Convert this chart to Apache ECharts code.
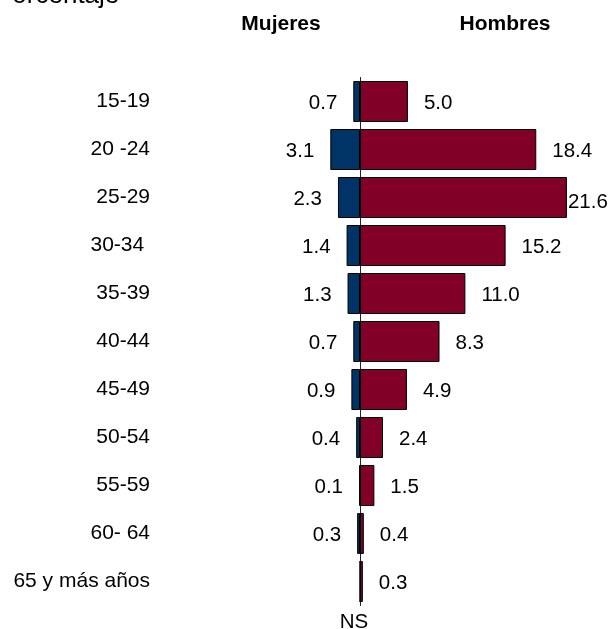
<!DOCTYPE html>
<html>
<head>
<meta charset="utf-8">
<script src="https://cdn.jsdelivr.net/npm/echarts@6/dist/echarts.min.js"></script>
<style>html,body{margin:0;padding:0;background:#fff}#c{width:612px;height:629px}</style>
</head>
<body>
<div id="c"></div>
<script>
// Data
var categories = ['15-19', '20 -24', '25-29', '30-34 ', '35-39', '40-44', '45-49', '50-54', '55-59', '60- 64', '65 y más años'];
var mujeres = [0.7, 3.1, 2.3, 1.4, 1.3, 0.7, 0.9, 0.4, 0.1, 0.3, 0]; // last = NS (no significativo)
var mujeresNS = [false, false, false, false, false, false, false, false, false, false, true];
var hombres = [5.0, 18.4, 21.6, 15.2, 11.0, 8.3, 4.9, 2.4, 1.5, 0.4, 0.3];
var titulo = 'Porcentaje';
var serieNombres = ['Mujeres', 'Hombres'];

var FONT = '"Liberation Sans", Arial, sans-serif';
var chart = echarts.init(document.getElementById('c'), null, {renderer: 'canvas'});

var mujeresData = mujeres.map(function (v, i) {
  var item = {value: -v};
  if (mujeresNS[i]) {
    item.label = {position: 'bottom', distance: 9, offset: [-6, 0], formatter: 'NS'};
  }
  return item;
});
var hombresData = hombres.map(function (v, i) {
  var item = {value: v};
  if (v === Math.max.apply(null, hombres)) {
    item.label = {distance: 1, offset: [0, 5]};
  }
  return item;
});

chart.setOption({
  animation: false,
  grid: {left: 264.2, width: 335.3, top: 77.5, height: 528, containLabel: false, outerBoundsMode: 'none'},
  xAxis: {
    type: 'value', min: -10, max: 25, show: false
  },
  yAxis: {
    type: 'category', data: categories, inverse: true,
    axisLine: {show: true, onZero: true, lineStyle: {color: '#222', width: 1}},
    axisTick: {show: false},
    splitLine: {show: false},
    axisLabel: {margin: 114.2, align: 'right', color: '#000', fontSize: 21, fontFamily: FONT}
  },
  graphic: [
    {type: 'text', left: -5, top: -17, z: 10,
      style: {text: titulo, fontSize: 26, fontFamily: FONT, fill: '#000'}},
    {type: 'text', x: 281, y: 24, z: 10,
      style: {text: serieNombres[0], fontSize: 21, fontWeight: 'bold', fontFamily: FONT, fill: '#000', align: 'center', verticalAlign: 'middle'}},
    {type: 'text', x: 505, y: 24, z: 10,
      style: {text: serieNombres[1], fontSize: 21, fontWeight: 'bold', fontFamily: FONT, fill: '#000', align: 'center', verticalAlign: 'middle'}}
  ],
  series: [
    {
      name: serieNombres[0], type: 'bar', stack: 'total', barWidth: 41,
      data: mujeresData,
      itemStyle: {color: '#003366', borderColor: '#000', borderWidth: 1},
      label: {show: true, position: 'left', distance: 16, offset: [0, 2], color: '#000', fontSize: 20.5, fontFamily: FONT,
        formatter: function (p) { return Math.abs(p.value).toFixed(1); }}
    },
    {
      name: serieNombres[1], type: 'bar', stack: 'total', barWidth: 41,
      data: hombresData,
      itemStyle: {color: '#800028', borderColor: '#000', borderWidth: 1},
      label: {show: true, position: 'right', distance: 16, offset: [0, 2], color: '#000', fontSize: 20.5, fontFamily: FONT,
        formatter: function (p) { return p.value.toFixed(1); }}
    }
  ]
});
</script>
</body>
</html>
